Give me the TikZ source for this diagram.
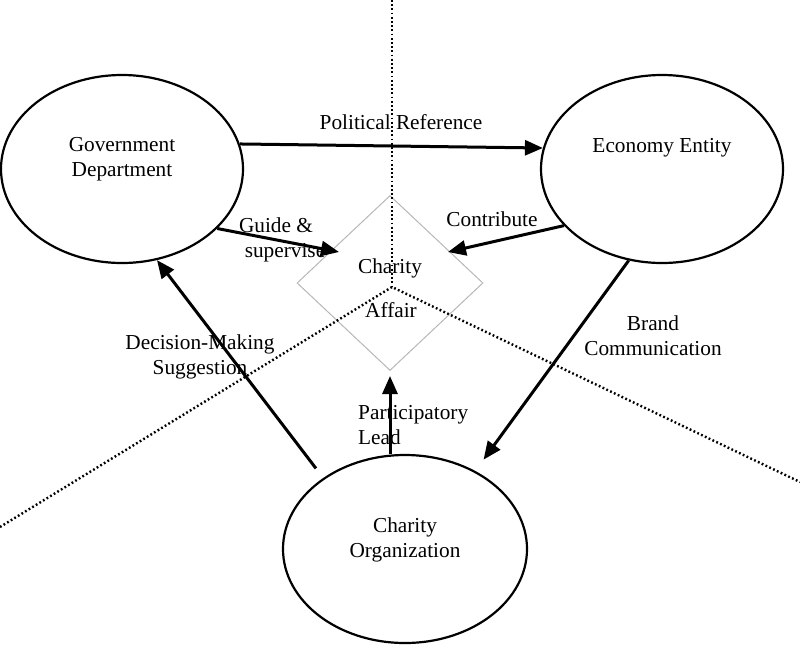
\documentclass[tikz,border=0pt]{standalone}
\usepackage{fontspec}
\setmainfont{Liberation Serif}
\usetikzlibrary{shapes.geometric,arrows.meta}
\begin{document}
\begin{tikzpicture}[x=1pt,y=-1pt,
  txt/.style={font=\fontsize{21.3}{25}\selectfont, align=center, inner sep=0pt},
  oval/.style={ellipse, draw, line width=2.2pt, fill=white, minimum width=242pt, minimum height=188pt, inner sep=0pt},
  conn/.style={line width=3pt, -{Triangle[length=18pt,width=15pt]}},
  dots/.style={line width=2.4pt, dash pattern=on 1.8pt off 2.4pt}
]
\useasboundingbox (0,0) rectangle (800,645);
\fill[white] (0,0) rectangle (800,645);

% ellipses
\node[oval] (gov) at (122,169) {};
\node[oval] (econ) at (662,169) {};
\node[oval, minimum width=244pt] (org) at (405,549) {};

\node[txt] (govt) at (122,159) {Government\\Department};
\node[txt] (econt) at (662,148) {Economy Entity};
\node[txt] (orgt) at (405,540) {Charity\\Organization};

% edge labels
\node[txt] (polt) at (401,122) {Political Reference};
\node[txt] (guidet) at (276,240) {Guide \&\\\hspace*{18pt}supervise};
\node[txt] (contt) at (492,219) {Contribute};
\node[txt] (brandt) at (653,336) {Brand\\Communication};
\node[txt] (dect) at (200,357) {Decision-Making\\Suggestion};
\node[txt, align=left, anchor=west] (partt) at (358,425) {Participatory\\Lead};

% diamond
\node[diamond, draw=black!28, line width=1pt, fill=white, minimum width=186pt, minimum height=175pt, inner sep=0pt] (aff) at (390,283) {};

% dotted lines
\coordinate (vtop) at (392,0);
\coordinate (apex) at (392,287);
\coordinate (lend) at (0,527);
\coordinate (rend) at (800,482);
\draw[dots] (vtop) -- (apex);
\draw[dots] (lend) -- (apex) -- (rend);

\node[txt] (afft1) at (390,268) {Charity};
\node[txt] (afft2) at (391,310) {Affair};

% arrows
\coordinate (guideEnd) at (339,252);
\coordinate (contEnd) at (448,252);
\draw[conn] (gov.12) -- (econ.170);
\draw[conn] (gov.-32) -- (guideEnd);
\draw[conn] (econ.210) -- (contEnd);
\draw[conn, shorten >=14pt] (econ.250) -- (org.48);
\draw[conn, shorten <=12pt] (org.139) -- (gov.-69);
\draw[conn, shorten >=5pt] (aff.south |- org.north) -- (aff.south);
\end{tikzpicture}
\end{document}
